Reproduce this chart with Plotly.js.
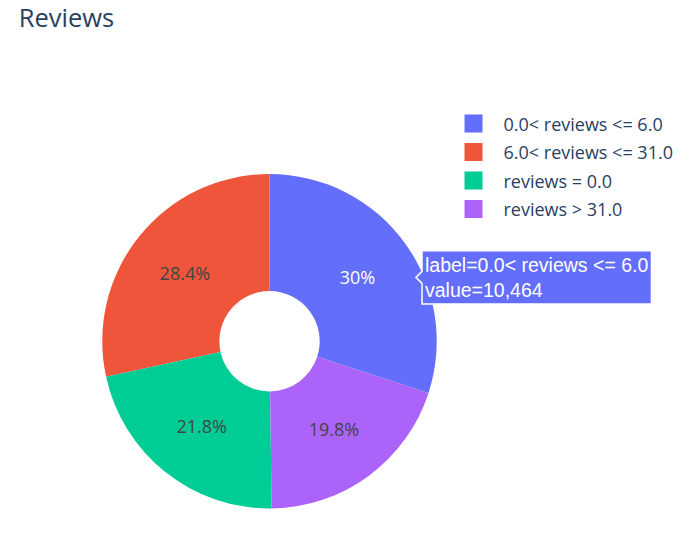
<!DOCTYPE html>
<html>
<head>
<meta charset="utf-8">
<script src="https://cdn.plot.ly/plotly-3.0.1.min.js"></script>
<style>
html,body{margin:0;padding:0;overflow:hidden;background:#fff}
#wrap{width:698px;height:559px;overflow:hidden;position:relative}
#chart{width:466px;height:373px;transform:scale(1.5);transform-origin:0 0}
</style>
</head>
<body>
<div id="wrap"><div id="chart"></div></div>
<script>
// Data
const categories = ['0.0< reviews <= 6.0', '6.0< reviews <= 31.0', 'reviews = 0.0', 'reviews > 31.0'];
const counts = [10464, 9906, 7604, 6906];
const sliceColors = ['#636efa', '#EF553B', '#00cc96', '#ab63fa'];
const chartTitle = 'Reviews';

const data = [{
  type: 'pie',
  labels: categories,
  values: counts,
  hole: 0.3,
  marker: {colors: sliceColors},
  textinfo: 'percent',
  textposition: 'inside',
  hovertemplate: 'label=%{label}<br>value=%{value}<extra></extra>',
  domain: {x: [0.1463, 0.6248], y: [0.0912, 0.689]}
}];

const layout = {
  width: 466,
  height: 373,
  margin: {l: 0, r: 0, t: 0, b: 0},
  paper_bgcolor: '#fff',
  plot_bgcolor: '#fff',
  font: {family: '"Open Sans", verdana, arial, sans-serif', size: 12, color: '#2a3f5f'},
  title: {text: chartTitle, x: 0.0267, xref: 'container', xanchor: 'left', y: 0.968, yref: 'container', yanchor: 'middle'},
  legend: {x: 0.6345, xanchor: 'left', y: 0.818, yanchor: 'top', tracegroupgap: 0},
  hoverlabel: {font: {family: 'Arial, "Liberation Sans", sans-serif', size: 13}},
  showlegend: true,
  hovermode: 'closest'
};

Plotly.newPlot('chart', data, layout, {displayModeBar: false, responsive: false}).then(function(gd) {
  const slice = gd.querySelector('.slice');
  if (slice) {
    const p = slice.querySelector('path') || slice;
    p.dispatchEvent(new MouseEvent('mouseover', {bubbles: true, cancelable: true}));
  }
});
</script>
</body>
</html>
